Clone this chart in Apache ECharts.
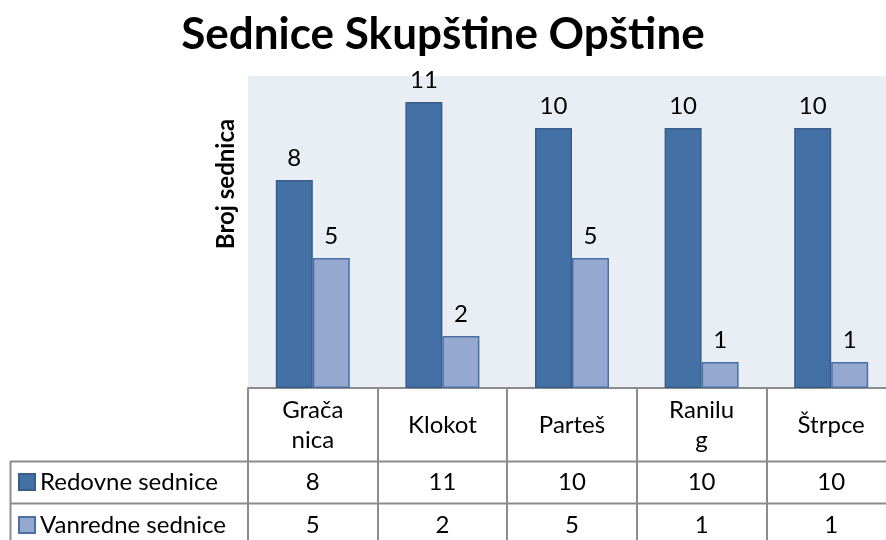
<!DOCTYPE html>
<html><head><meta charset="utf-8">
<script src="https://cdn.jsdelivr.net/npm/echarts@6/dist/echarts.min.js"></script>
<style>html,body{margin:0;padding:0;background:#fff}#c{width:886px;height:540px}</style>
</head><body><div id="c"></div>
<script>
const categories = ['Grača\nnica', 'Klokot', 'Parteš', 'Ranilu\ng', 'Štrpce'];
const seriesNames = ['Redovne sednice', 'Vanredne sednice'];
const redovne = [8, 11, 10, 10, 10];
const vanredne = [5, 2, 5, 1, 1];
const titleText = 'Sednice Skupštine Opštine';
const yTitle = 'Broj sednica';

const FONT = 'Lato';
const FS = 24;
const GRAY = '#8c8c8c';
const chart = echarts.init(document.getElementById('c'), null, {renderer: 'canvas'});
const labelStyle = {show: true, position: 'top', distance: 10, color: '#000', fontFamily: FONT, fontSize: FS};
const rowAxis = (arr, margin) => ({
  type: 'category', data: categories, position: 'bottom', gridIndex: 0,
  axisLine: {show: false}, axisTick: {show: false}, splitLine: {show: false},
  axisLabel: {interval: 0, margin: margin, verticalAlign: 'middle', color: '#000', fontFamily: FONT, fontSize: FS,
    formatter: (v, i) => String(arr[i])}
});
const legendFor = (name, top) => ({
  orient: 'vertical', left: 13, top: top, itemWidth: 16, itemHeight: 16,
  icon: 'rect', textStyle: {fontFamily: FONT, fontSize: FS, color: '#000'},
  selectedMode: false, data: [name]
});
chart.setOption({
  animation: false,
  title: {text: titleText, left: 'center', top: 8,
    textStyle: {fontFamily: FONT, fontWeight: 'bold', fontSize: 44, color: '#000'}},
  grid: {left: 248, width: 648, top: 76, bottom: 152, outerBoundsMode: 'none', containLabel: false,
    show: true, backgroundColor: '#e9edf4', borderWidth: 0},
  legend: [legendFor(seriesNames[0], 465), legendFor(seriesNames[1], 508)],
  xAxis: [
    {type: 'category', data: categories, position: 'bottom',
      axisLine: {show: true, lineStyle: {color: GRAY, width: 2}},
      axisTick: {show: true, length: 152, interval: 0, lineStyle: {color: GRAY, width: 2}},
      axisLabel: {interval: 0, margin: 37, verticalAlign: 'middle', color: '#000', fontFamily: FONT, fontSize: FS, lineHeight: 30}},
    rowAxis(redovne, 94),
    rowAxis(vanredne, 137)
  ],
  yAxis: {type: 'value', min: 0, max: 12, interval: 1, show: false, splitLine: {show: false}},
  graphic: [
    {type: 'text', x: 226, y: 184, rotation: Math.PI / 2,
      style: {text: yTitle, fontFamily: FONT, fontWeight: 'bold', fontSize: 24, fill: '#000', align: 'center', verticalAlign: 'middle'}},
    {type: 'line', shape: {x1: 10, y1: 461.5, x2: 886, y2: 461.5}, style: {stroke: GRAY, lineWidth: 2}},
    {type: 'line', shape: {x1: 10, y1: 503.5, x2: 886, y2: 503.5}, style: {stroke: GRAY, lineWidth: 2}},
    {type: 'line', shape: {x1: 10.5, y1: 461, x2: 10.5, y2: 540}, style: {stroke: GRAY, lineWidth: 2}}
  ],
  series: [
    {name: seriesNames[0], type: 'bar', data: redovne, barWidth: 37, barGap: '0%',
      itemStyle: {color: '#4471a5', borderColor: '#385d8a', borderWidth: 1.5}, label: labelStyle},
    {name: seriesNames[1], type: 'bar', data: vanredne, barWidth: 37, barGap: '0%',
      itemStyle: {color: '#95a9d0', borderColor: '#4a70a6', borderWidth: 1.5}, label: labelStyle}
  ]
});
</script></body></html>
